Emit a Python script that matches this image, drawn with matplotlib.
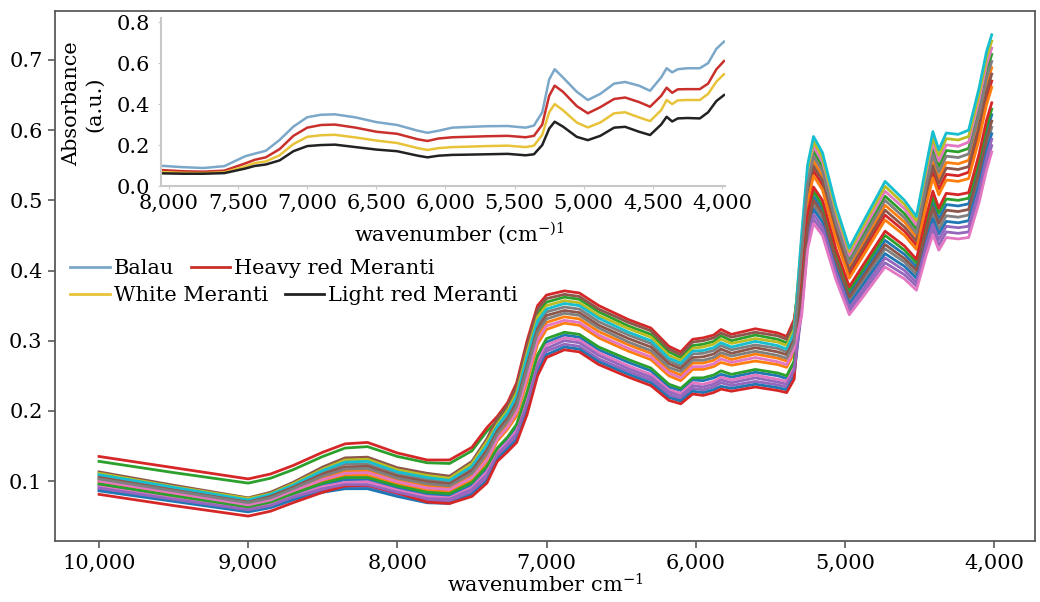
import matplotlib
matplotlib.use("Agg")
import matplotlib.pyplot as plt
from matplotlib.lines import Line2D
from matplotlib.ticker import FuncFormatter

plt.rcParams["font.family"] = ["DejaVu Serif"]
plt.rcParams["mathtext.fontset"] = "dejavuserif"

# main plot: wavenumber grid shared by all spectra
wavenumber = [10000, 9500, 9000, 8850, 8700, 8500, 8350, 8200, 8000, 7800, 7650, 7500, 7400,
              7330, 7260, 7200, 7130, 7060, 7000, 6880, 6780, 6650, 6450, 6300, 6180, 6100,
              6020, 5950, 5880, 5830, 5760, 5600, 5450, 5390, 5340, 5290, 5250, 5210, 5150,
              5060, 4970, 4880, 4730, 4600, 4520, 4450, 4410, 4370, 4320, 4240, 4170, 4100,
              4050, 4015]

s00 = [.094, .078, .062, .068, .080, .094, .102, .102, .090, .081, .079, .094, .117,
       .144, .160, .176, .221, .275, .298, .308, .305, .287, .269, .257, .234, .229, .244, .243, .247, .252, .248, .255, .250, .246, .266,
       .371, .468, .506, .487, .420, .367, .395, .443, .423, .405, .466, .497, .474, .494, .492, .495, .548, .596, .622]
s01 = [.101, .084, .067, .075, .087, .105, .114, .115, .101, .093, .090, .108, .134,
       .164, .181, .203, .254, .306, .326, .334, .331, .313, .294, .282, .258, .251, .268, .268, .272, .279, .273, .281, .275, .271, .293,
       .418, .516, .556, .535, .463, .405, .438, .493, .469, .448, .519, .557, .532, .554, .552, .557, .614, .665, .689]
s02 = [.128, .112, .097, .104, .116, .135, .147, .149, .135, .126, .125, .143, .171,
       .185, .204, .231, .288, .339, .355, .362, .359, .341, .321, .309, .284, .276, .293, .295, .299, .307, .300, .308, .302, .297, .321,
       .431, .530, .570, .548, .474, .416, .450, .506, .481, .459, .533, .573, .548, .571, .569, .574, .633, .683, .708]
s03 = [.135, .119, .103, .110, .122, .141, .153, .155, .140, .130, .130, .148, .176,
       .192, .212, .240, .300, .350, .365, .371, .368, .350, .330, .318, .292, .284, .302, .304, .308, .316, .309, .317, .311, .306, .330,
       .405, .503, .542, .522, .451, .395, .426, .479, .456, .436, .504, .540, .516, .537, .535, .540, .596, .645, .670]
s04 = [.088, .073, .057, .064, .075, .087, .092, .092, .081, .072, .071, .084, .104,
       .134, .149, .164, .206, .260, .285, .295, .292, .274, .256, .244, .223, .217, .232, .230, .234, .240, .236, .242, .237, .234, .254,
       .341, .436, .473, .456, .393, .342, .368, .411, .394, .378, .432, .459, .436, .455, .453, .455, .506, .552, .578]
s05 = [.113, .094, .076, .084, .098, .120, .133, .134, .119, .111, .107, .128, .160,
       .189, .208, .235, .294, .345, .360, .366, .363, .345, .326, .314, .288, .280, .298, .300, .304, .311, .305, .312, .307, .302, .325,
       .411, .510, .549, .528, .457, .400, .432, .486, .462, .442, .511, .549, .524, .546, .544, .548, .605, .655, .680]
s06 = [.092, .076, .060, .067, .078, .092, .098, .099, .087, .078, .076, .091, .113,
       .141, .156, .172, .216, .270, .294, .304, .301, .283, .264, .252, .230, .225, .240, .238, .242, .248, .244, .251, .245, .242, .262,
       .437, .537, .577, .555, .480, .421, .456, .513, .488, .465, .540, .582, .556, .579, .577, .583, .642, .693, .717]
s07 = [.107, .089, .072, .079, .093, .112, .124, .124, .110, .102, .099, .118, .147,
       .174, .193, .217, .271, .323, .341, .348, .345, .327, .308, .296, .271, .264, .281, .282, .286, .293, .287, .294, .289, .284, .307,
       .359, .455, .493, .475, .409, .357, .384, .431, .412, .394, .452, .482, .459, .478, .476, .479, .531, .579, .604]
s08 = [.111, .092, .075, .082, .096, .117, .130, .131, .116, .108, .104, .125, .156,
       .181, .201, .226, .283, .334, .350, .357, .354, .336, .317, .305, .279, .272, .289, .291, .295, .302, .296, .303, .298, .293, .316,
       .444, .543, .584, .561, .486, .427, .462, .520, .494, .471, .548, .590, .564, .588, .586, .591, .651, .703, .727]
s09 = [.109, .091, .073, .081, .094, .115, .127, .128, .113, .105, .101, .121, .151,
       .178, .197, .221, .277, .328, .345, .353, .350, .332, .312, .300, .275, .268, .285, .286, .290, .297, .291, .299, .293, .288, .311,
       .450, .550, .591, .568, .492, .432, .468, .527, .500, .477, .555, .598, .572, .596, .594, .600, .660, .712, .736]
s10 = [.086, .071, .056, .062, .073, .084, .089, .089, .078, .069, .068, .081, .100,
       .131, .146, .159, .200, .255, .280, .291, .288, .270, .252, .240, .219, .214, .228, .226, .230, .235, .232, .238, .233, .230, .249,
       .353, .449, .487, .469, .404, .352, .379, .424, .406, .389, .445, .474, .452, .470, .468, .471, .523, .570, .595]
s11 = [.098, .081, .065, .071, .084, .099, .108, .108, .096, .087, .085, .101, .126,
       .157, .174, .193, .242, .295, .316, .325, .322, .304, .285, .273, .250, .243, .259, .259, .263, .269, .265, .271, .266, .262, .283,
       .398, .496, .535, .515, .445, .389, .420, .472, .450, .430, .497, .532, .508, .529, .527, .531, .587, .636, .661]
s12 = [.096, .079, .063, .070, .082, .097, .105, .105, .093, .084, .082, .098, .121,
       .147, .163, .181, .227, .280, .303, .312, .309, .291, .273, .261, .238, .232, .247, .247, .251, .257, .252, .259, .254, .250, .271,
       .377, .474, .513, .493, .426, .372, .401, .450, .429, .411, .473, .505, .482, .502, .500, .503, .557, .605, .630]
s13 = [.081, .065, .050, .057, .069, .084, .093, .094, .083, .070, .068, .078, .097,
       .128, .142, .155, .195, .250, .276, .287, .284, .266, .248, .236, .215, .210, .224, .222, .226, .231, .228, .234, .229, .226, .245,
       .383, .480, .519, .500, .431, .377, .407, .456, .435, .416, .480, .513, .489, .510, .508, .511, .566, .614, .639]
s14 = [.090, .074, .059, .065, .077, .089, .095, .095, .084, .075, .074, .088, .109,
       .138, .153, .168, .211, .265, .289, .300, .297, .279, .260, .248, .227, .221, .236, .234, .238, .244, .240, .247, .241, .238, .258,
       .347, .443, .480, .462, .398, .347, .373, .418, .400, .383, .439, .466, .444, .463, .461, .463, .514, .561, .587]
s15 = [.105, .087, .070, .078, .091, .110, .120, .121, .107, .099, .096, .115, .143,
       .171, .189, .212, .265, .317, .336, .343, .340, .322, .303, .291, .267, .260, .276, .277, .281, .288, .282, .290, .284, .280, .302,
       .365, .461, .500, .481, .415, .362, .390, .437, .417, .400, .459, .490, .467, .486, .484, .487, .540, .587, .613]
s16 = [.100, .083, .066, .073, .086, .102, .111, .112, .099, .090, .088, .105, .130,
       .160, .177, .198, .248, .301, .321, .329, .326, .308, .289, .277, .254, .247, .263, .263, .267, .274, .269, .276, .270, .266, .288,
       .335, .430, .467, .450, .387, .337, .362, .405, .388, .372, .425, .451, .429, .447, .445, .447, .497, .543, .569]
s17 = [.103, .086, .069, .076, .089, .107, .117, .118, .104, .096, .093, .111, .139,
       .167, .185, .207, .260, .312, .331, .339, .336, .318, .298, .286, .262, .256, .272, .272, .276, .283, .278, .285, .279, .275, .297,
       .424, .523, .563, .542, .468, .411, .444, .500, .475, .453, .526, .565, .540, .563, .561, .566, .623, .674, .698]

spectra = [s00, s01, s02, s03, s04, s05, s06, s07, s08, s09,
           s10, s11, s12, s13, s14, s15, s16, s17]

# inset: mean spectra per species
inset_wn = [8058, 7900, 7750, 7600, 7450, 7380, 7300, 7200, 7100, 7000, 6900, 6800, 6650, 6500,
            6350, 6200, 6130, 6050, 5950, 5850, 5700, 5550, 5420, 5360, 5300, 5250, 5210, 5150,
            5050, 4970, 4880, 4780, 4700, 4600, 4520, 4440, 4400, 4360, 4320, 4250, 4160, 4100,
            4040, 3985]
balau = [.099, .092, .088, .097, .145, .158, .172, .225, .290, .336, .348, .350, .335, .312,
         .298, .270, .260, .270, .285, .288, .292, .293, .285, .295, .360, .520, .570, .530,
         .460, .420, .450, .500, .508, .490, .465, .530, .575, .555, .570, .575, .575, .600,
         .670, .705]
heavy_red = [.078, .072, .070, .075, .110, .128, .140, .180, .245, .285, .298, .300, .285, .265,
             .255, .228, .220, .232, .238, .240, .243, .245, .238, .245, .300, .440, .490, .460,
             .390, .355, .385, .425, .432, .410, .387, .440, .480, .455, .472, .473, .473, .500,
             .570, .610]
white = [.068, .064, .063, .067, .095, .112, .120, .150, .205, .240, .248, .250, .237, .222,
         .210, .185, .176, .185, .190, .192, .195, .197, .190, .197, .250, .360, .400, .370,
         .310, .286, .310, .355, .360, .335, .317, .370, .420, .400, .418, .420, .420, .450,
         .510, .546]
light_red = [.062, .060, .060, .063, .085, .098, .105, .125, .170, .195, .200, .202, .190, .178,
             .170, .148, .140, .148, .152, .153, .155, .157, .150, .155, .200, .280, .314, .290,
             .240, .224, .245, .285, .289, .265, .249, .300, .338, .315, .330, .332, .330, .360,
             .415, .444]

species = ["Balau", "Heavy red Meranti", "White Meranti", "Light red Meranti"]
species_colors = ["#7ba7c9", "#c9302c", "#e8c33a", "#222222"]

main_xticks = [10000, 9000, 8000, 7000, 6000, 5000, 4000]
main_yticks = [0.1, 0.2, 0.3, 0.4, 0.5, 0.6, 0.7]
inset_xticks = [8000, 7500, 7000, 6500, 6000, 5500, 5000, 4500, 4000]
inset_yticks = [0.0, 0.2, 0.4, 0.6, 0.8]

comma_fmt = FuncFormatter(lambda v, p: f"{v:,.0f}")
dec_fmt = FuncFormatter(lambda v, p: f"{v:.1f}")

fig = plt.figure(figsize=(10.4, 6.02), dpi=100)

ax = fig.add_axes([0.0529, 0.1013, 0.9423, 0.8804])
for s in spectra:
    ax.plot(wavenumber, s, lw=2.0)
ax.set_xlim(10295, 3725)
ax.set_ylim(0.0145, 0.7698)
ax.set_xticks(main_xticks)
ax.set_yticks(main_yticks)
ax.xaxis.set_major_formatter(comma_fmt)
ax.yaxis.set_major_formatter(dec_fmt)
for sp in ax.spines.values():
    sp.set_color("#5a5a5a")
    sp.set_linewidth(1.3)
ax.tick_params(labelsize=15, length=5, width=1.2, color="#5a5a5a", pad=4)
fig.text(545 / 1040, 1 - 585 / 602, "wavenumber cm$^{-1}$", ha="center", va="center", fontsize=15)

# inset
axi = fig.add_axes([0.1548, 0.691, 0.5423, 0.279])
for y, c in zip([balau, heavy_red, white, light_red], species_colors):
    axi.plot(inset_wn, y, color=c, lw=1.8)
axi.set_xlim(8058, 3978)
axi.set_ylim(0, 0.82)
axi.set_xticks(inset_xticks)
axi.set_yticks(inset_yticks)
axi.xaxis.set_major_formatter(comma_fmt)
axi.yaxis.set_major_formatter(dec_fmt)
axi.spines["top"].set_visible(False)
axi.spines["right"].set_visible(False)
for k in ["left", "bottom"]:
    axi.spines[k].set_color("#c8c8c8")
    axi.spines[k].set_linewidth(1.5)
axi.tick_params(labelsize=15, length=2, color="#c8c8c8")
axi.tick_params(axis="x", pad=4)
axi.tick_params(axis="y", pad=6)
fig.text(459 / 1040, 1 - 233 / 602, "wavenumber (cm$^{-)1}$", ha="center", va="center", fontsize=15)
fig.text(83 / 1040, 1 - 104 / 602, "Absorbance\n(a.u.)", rotation=90, ha="center", va="center",
         multialignment="center", fontsize=15, linespacing=1.3)

handles = [Line2D([], [], color=c, lw=2) for c in species_colors]
leg_kw = dict(loc="upper left", ncol=2, frameon=False, fontsize=15, handlelength=1.9,
              handletextpad=0.2, columnspacing=0.8, borderpad=0, borderaxespad=0)
fig.legend([handles[0], handles[1]], [species[0], species[1]],
           bbox_to_anchor=(70 / 1040, 1 - 259 / 602), **leg_kw)
fig.legend([handles[2], handles[3]], [species[2], species[3]],
           bbox_to_anchor=(70 / 1040, 1 - 286 / 602), **leg_kw)

fig.savefig("out.png", dpi=100)
